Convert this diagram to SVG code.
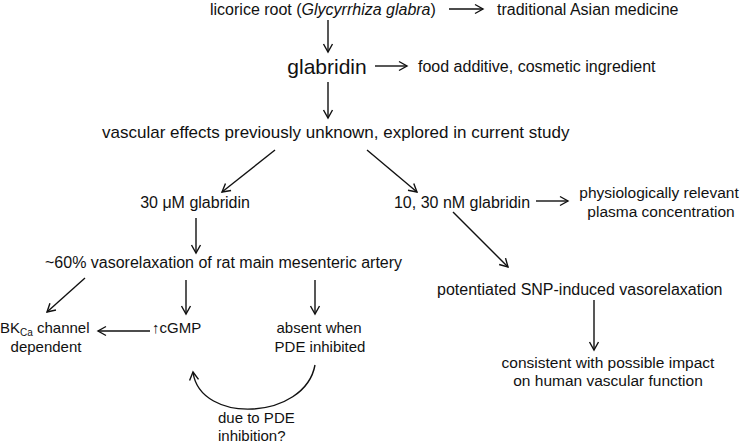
<svg xmlns="http://www.w3.org/2000/svg" width="742" height="443" viewBox="0 0 742 443">
<style>
text{font-family:"Liberation Sans",Arial,sans-serif;font-size:15px;fill:#111}
.m{font-size:16px}
.l{font-size:17px}
.s{font-size:15.5px}
.big{font-size:21px}
.c{text-anchor:middle}
.e{stroke:#111;stroke-width:1.4;fill:none}
</style>
<defs>
<marker id="ah" viewBox="-10 -6 12 12" markerWidth="12" markerHeight="12" refX="0" refY="0" orient="auto" markerUnits="userSpaceOnUse">
<path d="M-8,-4.5 L0,0 L-8,4.5" fill="none" stroke="#111" stroke-width="1.4"/>
</marker>
</defs>
<rect width="742" height="443" fill="#fff"/>
<g id="connectors">
<line class="e" x1="449" y1="9" x2="483" y2="9" marker-end="url(#ah)"/>
<line class="e" x1="328" y1="20" x2="328" y2="52" marker-end="url(#ah)"/>
<line class="e" x1="375" y1="66" x2="407" y2="66" marker-end="url(#ah)"/>
<line class="e" x1="328" y1="82" x2="328" y2="118" marker-end="url(#ah)"/>
<line class="e" x1="275" y1="150" x2="222" y2="192" marker-end="url(#ah)"/>
<line class="e" x1="367" y1="150" x2="417" y2="192" marker-end="url(#ah)"/>
<line class="e" x1="196" y1="218" x2="196" y2="253" marker-end="url(#ah)"/>
<line class="e" x1="536" y1="201" x2="568" y2="201" marker-end="url(#ah)"/>
<line class="e" x1="453" y1="212" x2="508" y2="267" marker-end="url(#ah)"/>
<line class="e" x1="85" y1="278" x2="47" y2="312" marker-end="url(#ah)"/>
<line class="e" x1="186" y1="280" x2="186" y2="314" marker-end="url(#ah)"/>
<line class="e" x1="315" y1="280" x2="315" y2="314" marker-end="url(#ah)"/>
<line class="e" x1="150" y1="331" x2="98" y2="331" marker-end="url(#ah)"/>
<line class="e" x1="594" y1="300" x2="594" y2="350" marker-end="url(#ah)"/>
<path class="e" d="M315,365 C305,420 200,425 193,372" marker-end="url(#ah)"/>
</g>
<g id="licorice"><text class="m" x="210" y="15">licorice root (<tspan font-style="italic">Glycyrrhiza glabra</tspan>)</text></g>
<g id="tam"><text class="m" x="497" y="15">traditional Asian medicine</text></g>
<g id="glabridin"><text class="big c" x="327" y="74">glabridin</text></g>
<g id="food"><text class="m" x="418" y="72">food additive, cosmetic ingredient</text></g>
<g id="vascular"><text class="l" x="102" y="138">vascular effects previously unknown, explored in current study</text></g>
<g id="g30uM"><text class="m c" x="195" y="208">30 μM glabridin</text></g>
<g id="g10nM"><text class="m c" x="462" y="208">10, 30 nM glabridin</text></g>
<g id="physio"><text class="s c" x="659" y="198">physiologically relevant</text><text class="s c" x="661" y="217">plasma concentration</text></g>
<g id="vaso60"><text class="m" x="45" y="268">~60% vasorelaxation of rat main mesenteric artery</text></g>
<g id="snp"><text class="m" x="437" y="295">potentiated SNP-induced vasorelaxation</text></g>
<g id="bkca"><text x="0" y="333">BK<tspan font-size="10" dy="3">Ca</tspan><tspan dy="-3"> channel</tspan></text><text class="c" x="46" y="352">dependent</text></g>
<g id="cgmp"><text x="152" y="333">↑cGMP</text></g>
<g id="absent"><text class="c" x="319" y="333">absent when</text><text class="c" x="320" y="352">PDE inhibited</text></g>
<g id="consistent"><text class="s c" x="608" y="368">consistent with possible impact</text><text class="s c" x="608" y="386">on human vascular function</text></g>
<g id="due"><text x="218" y="423">due to PDE</text><text x="218" y="441">inhibition?</text></g>
</svg>
